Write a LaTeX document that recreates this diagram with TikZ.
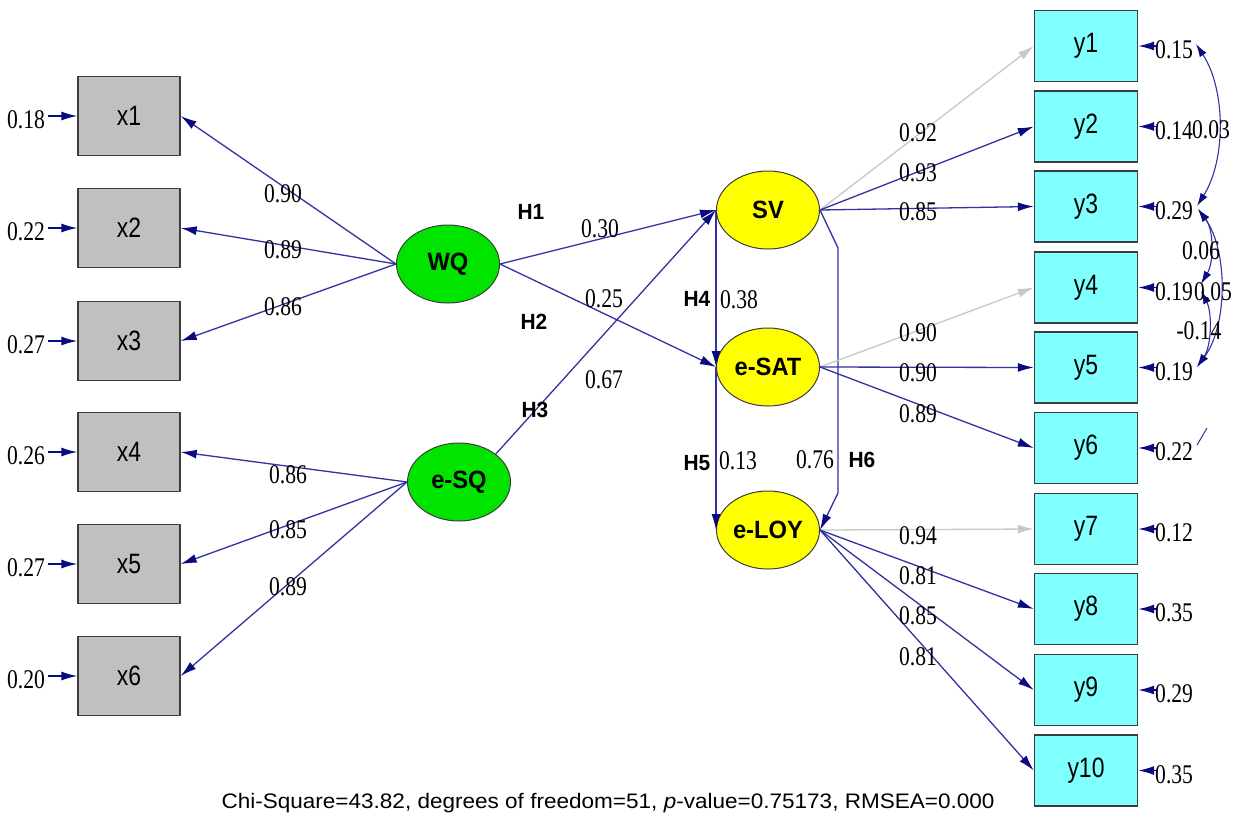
\documentclass[tikz,border=0pt]{standalone}
\usepackage{fontspec}
\usepackage{graphicx}
\setmainfont{Liberation Serif}
\newfontfamily\sansf{Liberation Sans}
\usetikzlibrary{shapes.geometric,arrows.meta}
\definecolor{lnav}{RGB}{50,50,160}
\definecolor{tnav}{RGB}{10,10,130}
\definecolor{boxg}{RGB}{192,192,192}
\definecolor{boxc}{RGB}{128,255,255}
\definecolor{latgr}{RGB}{0,228,0}
\definecolor{latye}{RGB}{255,255,0}
\definecolor{gline}{RGB}{200,200,200}
\definecolor{bord}{RGB}{60,60,60}
\newcommand\nbx[1]{\scalebox{0.8}[1]{#1}}
\newcommand\bxl[1]{\scalebox{0.82}[1]{#1}}
\newcommand\ltl[1]{\scalebox{0.95}[1]{#1}}
\begin{document}
\begin{tikzpicture}[x=1pt,y=-1pt,
  obsx/.style={rectangle,draw=bord,fill=boxg,line width=1.4pt,minimum width=102pt,minimum height=79pt,inner sep=0pt,font=\sansf\fontsize{28}{28}\selectfont},
  obsy/.style={rectangle,draw=bord,fill=boxc,line width=1.4pt,minimum width=103pt,minimum height=71pt,inner sep=0pt,font=\sansf\fontsize{28}{28}\selectfont},
  latg/.style={ellipse,draw=bord,fill=latgr,line width=1pt,minimum width=103pt,minimum height=78pt,inner sep=0pt,font=\sansf\bfseries\fontsize{25}{25}\selectfont},
  laty/.style={ellipse,draw=bord,fill=latye,line width=1pt,minimum width=103pt,minimum height=78pt,inner sep=0pt,font=\sansf\bfseries\fontsize{25}{25}\selectfont},
  num/.style={inner sep=0pt,font=\fontsize{27}{27}\selectfont},
  hyp/.style={inner sep=0pt,font=\sansf\bfseries\fontsize{22}{22}\selectfont},
  pth/.style={draw=lnav,line width=1.3pt,-{Latex[length=16pt,width=9pt,color=tnav]}},
  gpth/.style={draw=gline,line width=1.3pt,-{Latex[length=16pt,width=9pt,color=gline]}},
  errpth/.style={draw=tnav,line width=1.4pt,-{Latex[length=16pt,width=9pt,color=tnav]}},
  covpth/.style={draw=lnav,line width=1.1pt,{Latex[length=13pt,width=8pt,color=tnav]}-{Latex[length=13pt,width=8pt,color=tnav]}}
]
\useasboundingbox[fill=white] (0,0) rectangle (1239,823);

% observed x
\node[obsx] (x1) at (129,116) {\bxl{x1}};
\node[obsx] (x2) at (129,228) {\bxl{x2}};
\node[obsx] (x3) at (129,341) {\bxl{x3}};
\node[obsx] (x4) at (129,452) {\bxl{x4}};
\node[obsx] (x5) at (129,564) {\bxl{x5}};
\node[obsx] (x6) at (129,676) {\bxl{x6}};

% observed y
\node[obsy] (y1) at (1086,46) {\bxl{y1}};
\node[obsy] (y2) at (1086,126.5) {\bxl{y2}};
\node[obsy] (y3) at (1086,206.5) {\bxl{y3}};
\node[obsy] (y4) at (1086,287.5) {\bxl{y4}};
\node[obsy] (y5) at (1086,367.5) {\bxl{y5}};
\node[obsy] (y6) at (1086,448) {\bxl{y6}};
\node[obsy] (y7) at (1086,529) {\bxl{y7}};
\node[obsy] (y8) at (1086,609) {\bxl{y8}};
\node[obsy] (y9) at (1086,690) {\bxl{y9}};
\node[obsy] (y10) at (1086,770.5) {\bxl{y10}};

% latent
\node[latg] (WQ) at (448,264) {\ltl{WQ}};
\node[latg] (eSQ) at (459,482) {\ltl{e-SQ}};
\node[laty] (SV) at (768,210) {\ltl{SV}};
\node[laty] (eSAT) at (768,367) {\ltl{e-SAT}};
\node[laty] (eLOY) at (768,530) {\ltl{e-LOY}};

% left error labels and arrows
\node[num] (ex1) at (26,120) {\nbx{0.18}};
\node[num] (ex2) at (26,232) {\nbx{0.22}};
\node[num] (ex3) at (26,345) {\nbx{0.27}};
\node[num] (ex4) at (26,456) {\nbx{0.26}};
\node[num] (ex5) at (26,568) {\nbx{0.27}};
\node[num] (ex6) at (26,680) {\nbx{0.20}};
\foreach \i in {1,...,6}{
  \draw[errpth] ([xshift=3pt]ex\i.east |- x\i.west) -- (x\i.west);
}

% right error labels and arrows
\node[num,anchor=west] (ey1) at (1155,50) {\nbx{0.15}};
\node[num,anchor=west] (ey2) at (1155,130.5) {\nbx{0.14}};
\node[num,anchor=west] (ey3) at (1155,210.5) {\nbx{0.29}};
\node[num,anchor=west] (ey4) at (1155,291.5) {\nbx{0.19}};
\node[num,anchor=west] (ey5) at (1155,371.5) {\nbx{0.19}};
\node[num,anchor=west] (ey6) at (1155,452) {\nbx{0.22}};
\node[num,anchor=west] (ey7) at (1155,533) {\nbx{0.12}};
\node[num,anchor=west] (ey8) at (1155,613) {\nbx{0.35}};
\node[num,anchor=west] (ey9) at (1155,694) {\nbx{0.29}};
\node[num,anchor=west] (ey10) at (1155,774.5) {\nbx{0.35}};
\foreach \i in {1,...,10}{
  \draw[errpth] ([xshift=1pt]ey\i.west |- y\i.east) -- (y\i.east);
}

% covariance arcs
\coordinate (c1) at (1196,44);
\coordinate (c3) at (1197,206);
\coordinate (c3b) at (1198,209);
\coordinate (c4a) at (1201,284);
\coordinate (c4b) at (1201,291);
\coordinate (c5) at (1197,367);
\draw[covpth] (c1) .. controls (1226,90) and (1226,160) .. (c3);
\draw[covpth] (c3b) .. controls (1214,230) and (1214,262) .. (c4a);
\draw[covpth] (c4b) .. controls (1212,312) and (1212,345) .. (c5);
\draw[covpth] (c3b) .. controls (1228,250) and (1228,325) .. (c5);
\node[num] (cv1) at (1211,130) {\nbx{0.03}};
\node[num] (cv2) at (1201,251) {\nbx{0.06}};
\node[num] (cv3) at (1213,292) {\nbx{0.05}};
\node[num] (cv4) at (1199,331) {\nbx{-0.14}};
\coordinate (s1) at (1197,445);
\coordinate (s2) at (1207,428);
\draw[draw=lnav,line width=1pt] (s1) -- (s2);

% WQ loadings
\draw[pth] (WQ.west) -- (x1.east);
\draw[pth] (WQ.west) -- (x2.east);
\draw[pth] (WQ.west) -- (x3.east);
\node[num] (lx1) at (283,194) {\nbx{0.90}};
\node[num] (lx2) at (283,250) {\nbx{0.89}};
\node[num] (lx3) at (283,307) {\nbx{0.86}};

% eSQ loadings
\draw[pth] (eSQ.west) -- (x4.east);
\draw[pth] (eSQ.west) -- (x5.east);
\draw[pth] (eSQ.west) -- (x6.east);
\node[num] (lx4) at (288,475) {\nbx{0.86}};
\node[num] (lx5) at (288,530) {\nbx{0.85}};
\node[num] (lx6) at (288,587) {\nbx{0.89}};

% structural paths
\draw[pth] (WQ.east) -- (SV.west);
\draw[pth] (WQ.east) -- (eSAT.west);
\draw[pth] (eSQ.north east) -- (SV.west);
\draw[pth] (SV.west) -- (eSAT.west);
\draw[pth] (eSAT.west) -- (eLOY.west);
\coordinate (h6a) at (838,248);
\coordinate (h6b) at (838,493);
\draw[pth] (SV.east) -- (h6a) -- (h6b) -- (eLOY.east);

\node[num] (p1) at (600,229) {\nbx{0.30}};
\node[num] (p2) at (604,299) {\nbx{0.25}};
\node[num] (p3) at (604,380) {\nbx{0.67}};
\node[num] (p4) at (739,300) {\nbx{0.38}};
\node[num] (p5) at (738,461) {\nbx{0.13}};
\node[num] (p6) at (815,460) {\nbx{0.76}};
\node[hyp] (H1) at (531,212) {\ltl{H1}};
\node[hyp] (H2) at (534,322) {\ltl{H2}};
\node[hyp] (H3) at (535,410) {\ltl{H3}};
\node[hyp] (H4) at (697,299) {\ltl{H4}};
\node[hyp] (H5) at (697,463) {\ltl{H5}};
\node[hyp] (H6) at (862,460) {\ltl{H6}};

% SV indicators
\draw[gpth] (SV.east) -- (y1.west);
\draw[pth] (SV.east) -- (y2.west);
\draw[pth] (SV.east) -- (y3.west);
\node[num] (ly1) at (918,133) {\nbx{0.92}};
\node[num] (ly2) at (918,173) {\nbx{0.93}};
\node[num] (ly3) at (918,212) {\nbx{0.85}};

% eSAT indicators
\draw[gpth] (eSAT.east) -- (y4.west);
\draw[pth] (eSAT.east) -- (y5.west);
\draw[pth] (eSAT.east) -- (y6.west);
\node[num] (ly4) at (918,333) {\nbx{0.90}};
\node[num] (ly5) at (918,373) {\nbx{0.90}};
\node[num] (ly6) at (918,414) {\nbx{0.89}};

% eLOY indicators
\draw[gpth] (eLOY.east) -- (y7.west);
\draw[pth] (eLOY.east) -- (y8.west);
\draw[pth] (eLOY.east) -- (y9.west);
\draw[pth] (eLOY.east) -- (y10.west);
\node[num] (ly7) at (918,536) {\nbx{0.94}};
\node[num] (ly8) at (918,576) {\nbx{0.81}};
\node[num] (ly9) at (918,616) {\nbx{0.85}};
\node[num] (ly10) at (918,657) {\nbx{0.81}};

% caption
\node[inner sep=0pt,font=\sansf] (cap) at (608,803) {\resizebox{773pt}{\height}{\fontsize{21}{21}\selectfont Chi-Square=43.82, degrees of freedom=51, \textit{p}-value=0.75173, RMSEA=0.000}};
\end{tikzpicture}
\end{document}
